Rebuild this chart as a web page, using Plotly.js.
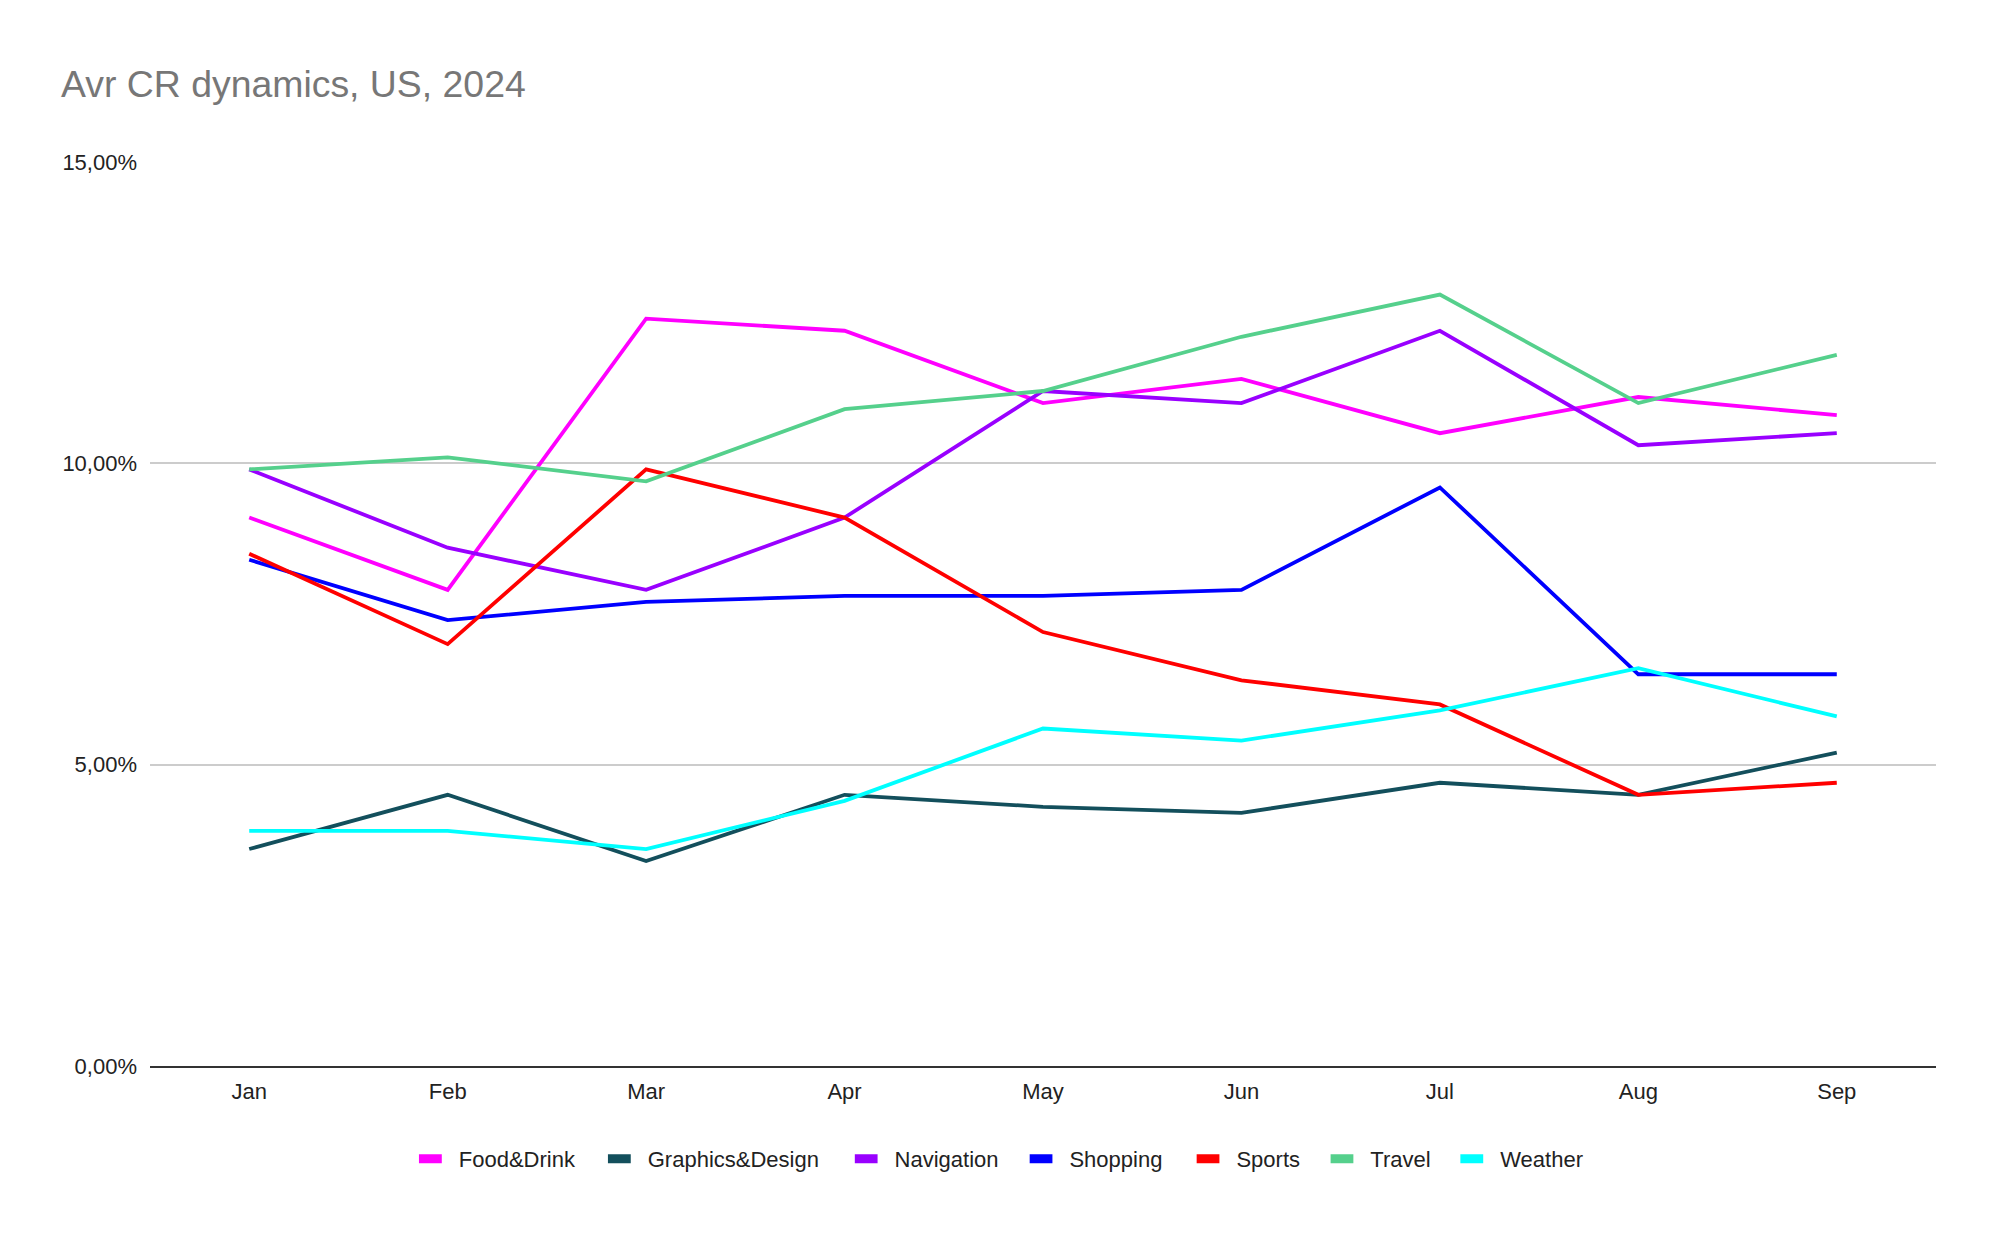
<!DOCTYPE html>
<html>
<head>
<meta charset="utf-8">
<script src="https://cdn.plot.ly/plotly-3.0.1.min.js"></script>
<style>
  html, body { margin: 0; padding: 0; background: #ffffff; }
  #chart { width: 1999px; height: 1234px; }
  g.legendlines path.js-line { stroke-width: 9px !important; d: path("M0,0h23"); }
</style>
</head>
<body>
<div id="chart"></div>
<script>
// ---- data (values in %) ----
const months = ["Jan", "Feb", "Mar", "Apr", "May", "Jun", "Jul", "Aug", "Sep"];

const foodDrink      = [9.1, 7.9, 12.4, 12.2, 11.0, 11.4, 10.5, 11.1, 10.8];
const graphicsDesign = [3.6, 4.5, 3.4, 4.5, 4.3, 4.2, 4.7, 4.5, 5.2];
const navigation     = [9.9, 8.6, 7.9, 9.1, 11.2, 11.0, 12.2, 10.3, 10.5];
const shopping       = [8.4, 7.4, 7.7, 7.8, 7.8, 7.9, 9.6, 6.5, 6.5];
const sports         = [8.5, 7.0, 9.9, 9.1, 7.2, 6.4, 6.0, 4.5, 4.7];
const travel         = [9.9, 10.1, 9.7, 10.9, 11.2, 12.1, 12.8, 11.0, 11.8];
const weather        = [3.9, 3.9, 3.6, 4.4, 5.6, 5.4, 5.9, 6.6, 5.8];

const seriesNames = ["Food&Drink", "Graphics&Design", "Navigation", "Shopping", "Sports", "Travel", "Weather"];
const seriesValues = [foodDrink, graphicsDesign, navigation, shopping, sports, travel, weather];
const yTickValues = [0, 5, 10, 15];
const yTickLabels = ["0,00%", "5,00%", "10,00%", "15,00%"];

// ---- styles ----
const colors = ["#ff00ff", "#134f5c", "#9900ff", "#0000ff", "#ff0000", "#55d08c", "#00ffff"];
const legendIds = ["legend", "legend2", "legend3", "legend4", "legend5", "legend6", "legend7"];
const legendX = [0.1505, 0.2563, 0.3945, 0.4924, 0.5859, 0.6609, 0.7336];

const FONT = "Liberation Sans, Arial, sans-serif";

const traces = seriesNames.map((name, i) => ({
  type: "scatter",
  mode: "lines",
  name: name,
  x: months,
  y: seriesValues[i],
  line: { color: colors[i], width: 3.8 },
  legend: legendIds[i],
  hoverinfo: "x+y+name"
}));

const layout = {
  width: 1999,
  height: 1234,
  paper_bgcolor: "#ffffff",
  plot_bgcolor: "#ffffff",
  margin: { l: 150, r: 63, t: 162, b: 168 },
  title: {
    text: "Avr CR dynamics, US, 2024",
    font: { family: FONT, size: 37.4, color: "#777777" },
    xref: "container", x: 0.0305, xanchor: "left",
    yref: "container", y: 0.932, yanchor: "middle"
  },
  xaxis: {
    type: "category",
    range: [-0.5, 8.5],
    showgrid: false,
    zeroline: false,
    showline: true,
    linecolor: "#333333",
    linewidth: 2,
    ticks: "",
    ticklabelstandoff: 5,
    tickfont: { family: FONT, size: 22, color: "#222222" },
    fixedrange: true
  },
  yaxis: {
    range: [0, 15],
    tickmode: "array",
    tickvals: yTickValues,
    ticktext: yTickLabels,
    showgrid: true,
    gridcolor: "#cccccc",
    gridwidth: 1.5,
    zeroline: false,
    showline: false,
    ticks: "",
    ticklabelstandoff: 12,
    tickfont: { family: FONT, size: 22, color: "#222222" },
    fixedrange: true
  },
  showlegend: true,
  hovermode: false
};

legendIds.forEach((id, i) => {
  layout[id] = {
    orientation: "h",
    x: legendX[i],
    xanchor: "left",
    y: -0.1029,
    yanchor: "middle",
    bgcolor: "rgba(0,0,0,0)",
    borderwidth: 0,
    font: { family: FONT, size: 22, color: "#222222" }
  };
});

Plotly.newPlot("chart", traces, layout, { displayModeBar: false, responsive: false });
</script>
</body>
</html>
